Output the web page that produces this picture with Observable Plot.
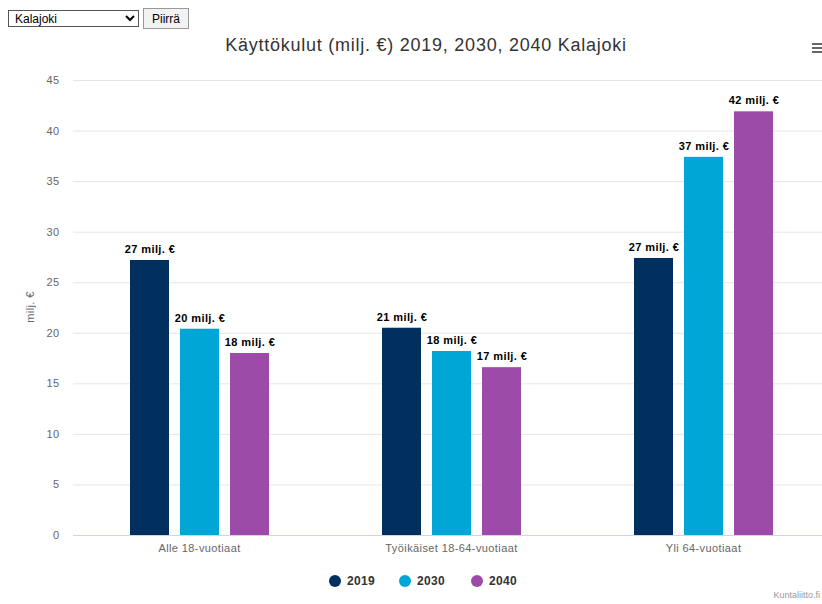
<!DOCTYPE html>
<html>
<head>
<meta charset="utf-8">
<script src="https://cdn.jsdelivr.net/npm/d3@7"></script>
<script src="https://cdn.jsdelivr.net/npm/@observablehq/plot@0.6"></script>
<style>
html, body { margin: 0; padding: 0; background: #fff; overflow: hidden; }
#wrap { position: relative; width: 822px; height: 604px; overflow: hidden; font-family: "Liberation Sans", Arial, sans-serif; }
#sel { position: absolute; left: 8px; top: 10px; width: 131px; height: 17px; font: 12px "Liberation Sans", Arial, sans-serif; border: 1px solid #555; padding: 0 2px; background: #fff; color: #000; }
#btn { position: absolute; left: 143px; top: 8px; width: 46px; height: 21px; font: 12px "Liberation Sans", Arial, sans-serif; border: 1px solid #999; background: #f2f2f2; padding: 0; color: #000; }
#title { position: absolute; top: 35px; left: 206px; width: 440px; text-align: center; font-size: 18px; letter-spacing: 0.75px; color: #333; white-space: nowrap; }
#menu { position: absolute; left: 812px; top: 43px; width: 10px; }
#menu div { height: 2px; background: #666; margin-bottom: 2px; }
#chart { position: absolute; left: 0; top: 60px; }
#ylabel { position: absolute; left: 30px; top: 307px; transform: translate(-50%, -50%) rotate(-90deg); font-size: 11px; letter-spacing: 0.4px; color: #666; white-space: nowrap; }
#legend { position: absolute; top: 573px; left: 0; width: 822px; height: 16px; }
.item { position: absolute; top: 0; font-size: 12px; font-weight: bold; letter-spacing: 0.3px; color: #333; line-height: 16px; white-space: nowrap; }
.dot { display: inline-block; width: 12px; height: 12px; border-radius: 50%; vertical-align: -2px; margin-right: 6px; }
#credits { position: absolute; right: 2px; top: 590px; font-size: 9px; color: #999; white-space: nowrap; }
</style>
</head>
<body>
<div id="wrap">
  <select id="sel"><option>Kalajoki</option></select>
  <button id="btn">Piirrä</button>
  <div id="title"></div>
  <div id="menu"><div></div><div></div><div></div></div>
  <div id="chart"></div>
  <div id="ylabel"></div>
  <div id="legend"></div>
  <div id="credits">Kuntaliitto.fi</div>
</div>
<script>
const titleText = "Käyttökulut (milj. €) 2019, 2030, 2040 Kalajoki";
const yLabel = "milj. €";
const categories = ["Alle 18-vuotiaat", "Työikäiset 18-64-vuotiaat", "Yli 64-vuotiaat"];
const years = ["2019", "2030", "2040"];
const values2019 = [27.2, 20.5, 27.4];
const values2030 = [20.4, 18.2, 37.4];
const values2040 = [18.0, 16.6, 41.9];
const yTicks = [0, 5, 10, 15, 20, 25, 30, 35, 40, 45];
const colors = ["#01305f", "#00a6d6", "#9c4ca8"];

const series = [values2019, values2030, values2040];
const data = categories.flatMap((c, i) =>
  years.map((y, j) => ({category: c, year: y, value: series[j][i]}))
);

document.getElementById("title").textContent = titleText;
document.getElementById("ylabel").textContent = yLabel;

const chart = Plot.plot({
  width: 822,
  height: 505,
  marginTop: 20,
  marginBottom: 30,
  marginLeft: 74,
  marginRight: 0,
  style: {fontFamily: "'Liberation Sans', Arial, sans-serif", fontSize: "11px", letterSpacing: "0.4px", color: "#666", background: "transparent", overflow: "visible"},
  fx: {domain: categories, range: [72, 829], padding: 0, label: null, axis: "bottom", tickSize: 0, tickPadding: 9},
  x: {domain: years, axis: null, paddingInner: 0.23, paddingOuter: 1.1},
  y: {domain: [0, 45], ticks: yTicks, tickSize: 0, tickPadding: 14, label: null},
  color: {domain: years, range: colors},
  marks: [
    Plot.ruleY(yTicks, {stroke: "#e6e6e6"}),
    Plot.barY(data, {fx: "category", x: "year", y: "value", fill: "year"}),
    Plot.ruleY([0], {stroke: "#ccd6eb"}),
    Plot.text(data, {
      fx: "category", x: "year", y: "value",
      text: d => Math.round(d.value) + " milj. €",
      dy: -11, fill: "#000", stroke: "#fff", strokeWidth: 2,
      fontWeight: "bold", fontSize: 11
    })
  ]
});
document.getElementById("chart").appendChild(chart);

const legend = document.getElementById("legend");
const legendX = [329, 399, 471];
years.forEach((y, i) => {
  const item = document.createElement("div");
  item.className = "item";
  item.style.left = legendX[i] + "px";
  const dot = document.createElement("span");
  dot.className = "dot";
  dot.style.background = colors[i];
  item.appendChild(dot);
  item.appendChild(document.createTextNode(y));
  legend.appendChild(item);
});
</script>
</body>
</html>
